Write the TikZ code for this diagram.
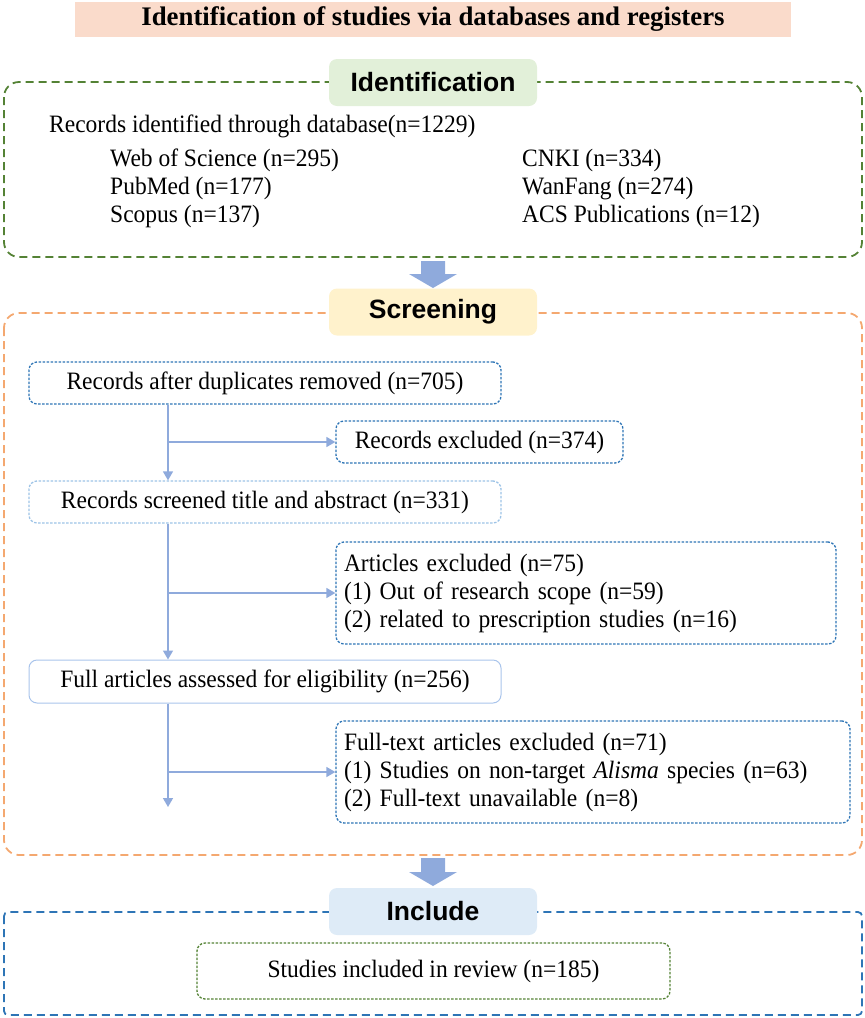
\documentclass[tikz,border=0pt]{standalone}
\usepackage{fontspec}
\setmainfont{Liberation Serif}
\setsansfont{Liberation Sans}
\newfontfamily\bodyserif[FakeStretch=0.94]{Liberation Serif}
\usetikzlibrary{arrows.meta,calc}
\definecolor{gdash}{HTML}{548235}
\definecolor{odash}{HTML}{F4A870}
\definecolor{bdash}{HTML}{2E75B6}
\definecolor{bdot}{HTML}{2E75B6}
\definecolor{ldot}{HTML}{9DC3E6}
\definecolor{lsolid}{HTML}{A9C4EB}
\definecolor{conncol}{HTML}{8FAADC}
\definecolor{titlefill}{HTML}{FADBCB}
\definecolor{idfill}{HTML}{E2F0D9}
\definecolor{scfill}{HTML}{FFF2CC}
\definecolor{infill}{HTML}{DEEBF7}
\tikzset{
  body/.style={font=\bodyserif\fontsize{25}{28}\selectfont},
  outerbox/.style={line width=1.8pt, dash pattern=on 8pt off 5pt, rounded corners=15pt},
  labelbox/.style={fill=#1, rounded corners=8pt, minimum width=208pt, minimum height=47pt, inner sep=0pt,
     font=\sffamily\bfseries\fontsize{26.5}{30}\selectfont},
  stepbox/.style={rounded corners=8pt, inner sep=0pt, body, minimum height=42pt},
  dotline/.style={line width=1.3pt, dash pattern=on 2.5pt off 1.5pt},
  listbox/.style={stepbox, dotline, draw=bdot, align=left, inner xsep=8pt, minimum height=102pt},
  conn/.style={draw=conncol, line width=1.6pt, -{Triangle[width=10pt,length=9pt]}},
  blockarrow/.style={fill=conncol},
}
\begin{document}
\begin{tikzpicture}[x=1pt,y=-1pt]
\useasboundingbox (0,0) rectangle (865,1018);
% title
\node[fill=titlefill, minimum width=716pt, minimum height=35pt, inner sep=0pt,
  font=\bfseries\fontsize{26.8}{30}\selectfont] (title) at (433,19.5)
  {Identification of studies via databases and registers};

% Identification section
\draw[outerbox, draw=gdash] (4,82) rectangle (862,257);
\node[labelbox=idfill] (idlab) at (433,82.5) {Identification};
\node[body, anchor=base west, inner sep=0pt] (rec) at (49,132) {Records identified through database(n=1229)};
\node[body, anchor=base west, inner sep=0pt] (wos) at (110,166) {Web of Science (n=295)};
\node[body, anchor=base west, inner sep=0pt] (pub) at (110,194) {PubMed (n=177)};
\node[body, anchor=base west, inner sep=0pt] (sco) at (110,222) {Scopus (n=137)};
\node[body, anchor=base west, inner sep=0pt] (cnki) at (522,166) {CNKI (n=334)};
\node[body, anchor=base west, inner sep=0pt] (wf) at (522,194) {WanFang (n=274)};
\node[body, anchor=base west, inner sep=0pt] (acs) at (522,222) {ACS Publications (n=12)};

% block arrow 1
\fill[blockarrow] (421,261) -- (445,261) -- (445,274) -- (457,274) -- (433,288) -- (409,274) -- (421,274) -- cycle;

% Screening section
\draw[outerbox, draw=odash] (4,313) rectangle (862,855);
\node[labelbox=scfill] (sclab) at (433,312) {Screening};

\node[stepbox, dotline, draw=bdot, minimum width=472pt] (b1) at (265,383) {Records after duplicates removed (n=705)};
\node[stepbox, dotline, draw=bdot, minimum width=287pt] (ex1) at (479.5,442) {Records excluded (n=374)};
\node[stepbox, dotline, draw=ldot, minimum width=472pt] (b2) at (265,502) {Records screened title and abstract (n=331)};
\node[listbox, text width=484pt] (ex2) at (586,593) {Articles excluded (n=75)\\(1) Out of research scope (n=59)\\(2) related to prescription studies (n=16)};
\node[stepbox, draw=lsolid, line width=1pt, minimum width=472pt, minimum height=43pt] (b3) at (265,681.5) {Full articles assessed for eligibility (n=256)};
\node[listbox, text width=498pt] (ex3) at (593,772) {Full-text articles excluded (n=71)\\(1) Studies on non-target \textit{Alisma} species (n=63)\\(2) Full-text unavailable (n=8)};

\coordinate (v) at (168,0);
\coordinate (endv) at (168,807);
\draw[conn] (b1.south -| v) -- (b2.north -| v);
\draw[conn] (v |- ex1.west) -- (ex1.west);
\draw[conn] (b2.south -| v) -- (b3.north -| v);
\draw[conn] (v |- ex2.west) -- (ex2.west);
\draw[conn] (b3.south -| v) -- (endv);
\draw[conn] (v |- ex3.west) -- (ex3.west);

% block arrow 2
\fill[blockarrow] (421,858) -- (445,858) -- (445,872) -- (457,872) -- (433,886) -- (409,872) -- (421,872) -- cycle;

% Include section
\draw[line width=1.8pt, dash pattern=on 8pt off 5pt, draw=bdash, rounded corners=4pt] (4,912) rectangle (862,1015);
\node[labelbox=infill] (inlab) at (433,911.5) {Include};
\node[stepbox, dotline, draw=gdash, minimum width=473pt, minimum height=56pt] (fin) at (433.5,971) {Studies included in review (n=185)};
\end{tikzpicture}
\end{document}
